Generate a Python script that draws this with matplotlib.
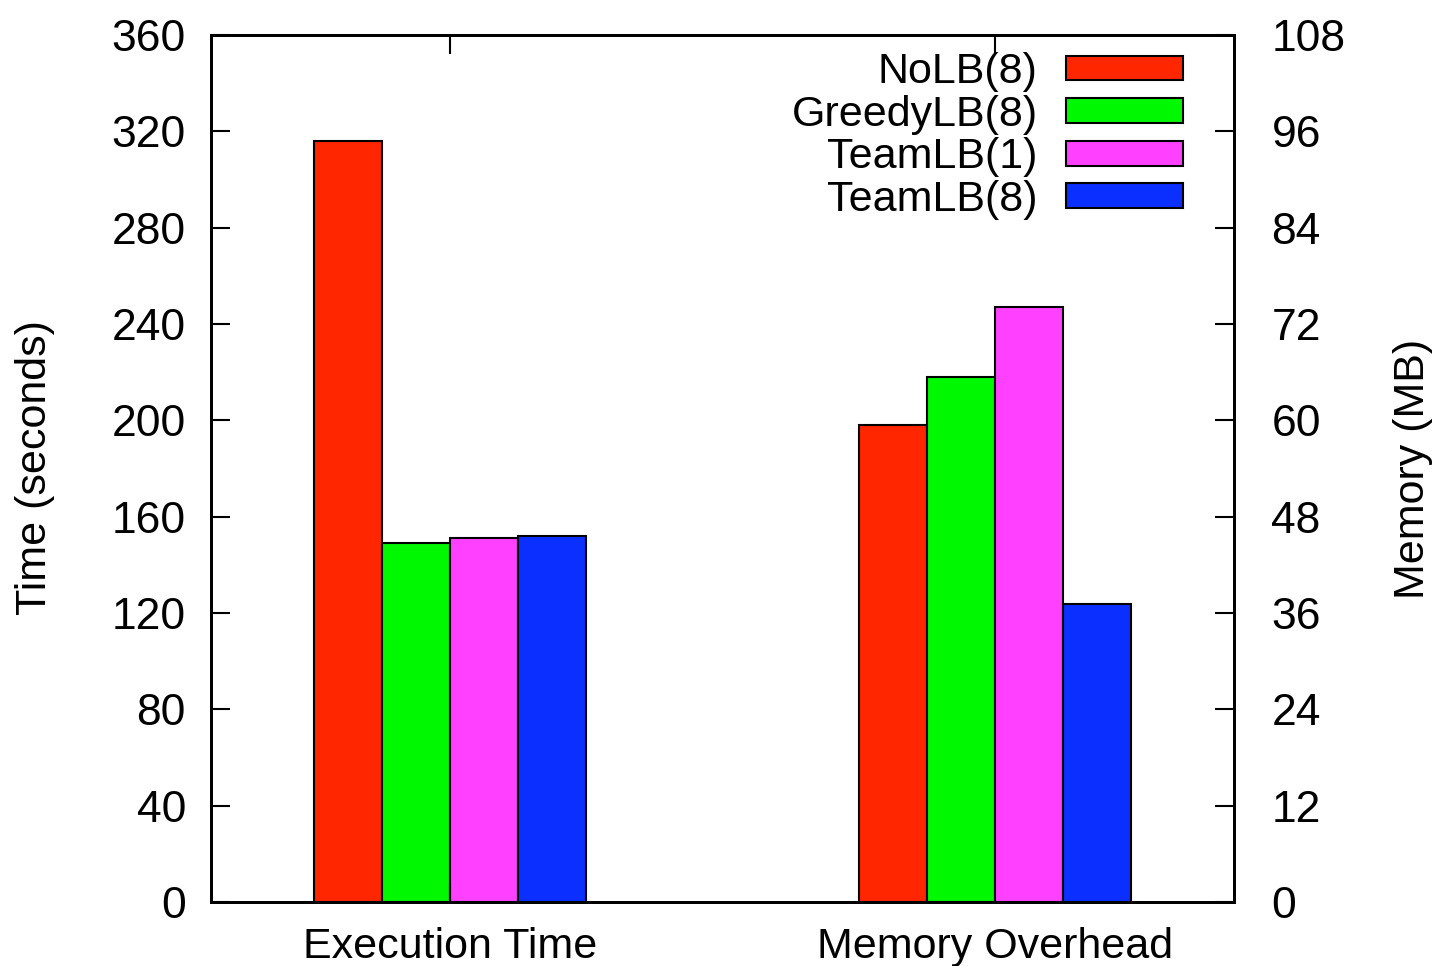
import matplotlib
matplotlib.use("Agg")
import matplotlib.pyplot as plt
import numpy as np

plt.rcParams["font.family"] = ["Liberation Sans", "DejaVu Sans"]

# data
categories = ["Execution Time", "Memory Overhead"]
series = ["NoLB(8)", "GreedyLB(8)", "TeamLB(1)", "TeamLB(8)"]
colors = ["#ff2600", "#00f800", "#ff40ff", "#0b2fff"]
exec_time = [316, 149, 151, 152]          # seconds, left axis
memory_mb = [59.4, 65.4, 74.1, 37.1]      # MB, right axis

fig = plt.figure(figsize=(14.38, 9.66), dpi=100)
ax = fig.add_axes([0.1467, 0.0663, 0.7114, 0.8975])
ax2 = ax.twinx()

width = 0.125
offsets = (np.arange(len(series)) - 1.5) * width
handles = []
for i, name in enumerate(series):
    h = ax.bar(0 + offsets[i], exec_time[i], width, color=colors[i],
               edgecolor="black", linewidth=1.5, label=name)
    ax2.bar(1 + offsets[i], memory_mb[i], width, color=colors[i],
            edgecolor="black", linewidth=1.5)
    handles.append(h)

ax.set_xlim(-0.4385, 1.4385)
ax.set_ylim(0, 360)
ax2.set_ylim(0, 108)
ax.set_yticks(np.arange(0, 361, 40))
ax2.set_yticks(np.arange(0, 109, 12))
ax.set_xticks([0, 1])
ax.set_xticklabels(categories)

fs = 31
for a in (ax, ax2):
    for s in a.spines.values():
        s.set_linewidth(2)
    a.tick_params(direction="in", length=14, width=1.5, labelsize=32)
ax.tick_params(axis="x", top=True, pad=18, labelsize=fs)
ax.tick_params(axis="y", pad=18)
ax2.tick_params(axis="y", pad=27)

fig.text(35 / 1438, 1 - 468 / 966, "Time (seconds)", fontsize=fs,
         rotation=90, ha="center", va="center")
fig.text(1413 / 1438, 1 - 469 / 966, "Memory (MB)", fontsize=fs,
         rotation=90, ha="center", va="center")

ax2.legend(handles, series, loc="upper right", bbox_to_anchor=(0.95, 0.98),
           frameon=False, fontsize=fs, markerfirst=False,
           handlelength=2.72, handleheight=0.51, handletextpad=0.65,
           labelspacing=0.06, borderaxespad=0, borderpad=0)

fig.savefig("out.png", dpi=100)
